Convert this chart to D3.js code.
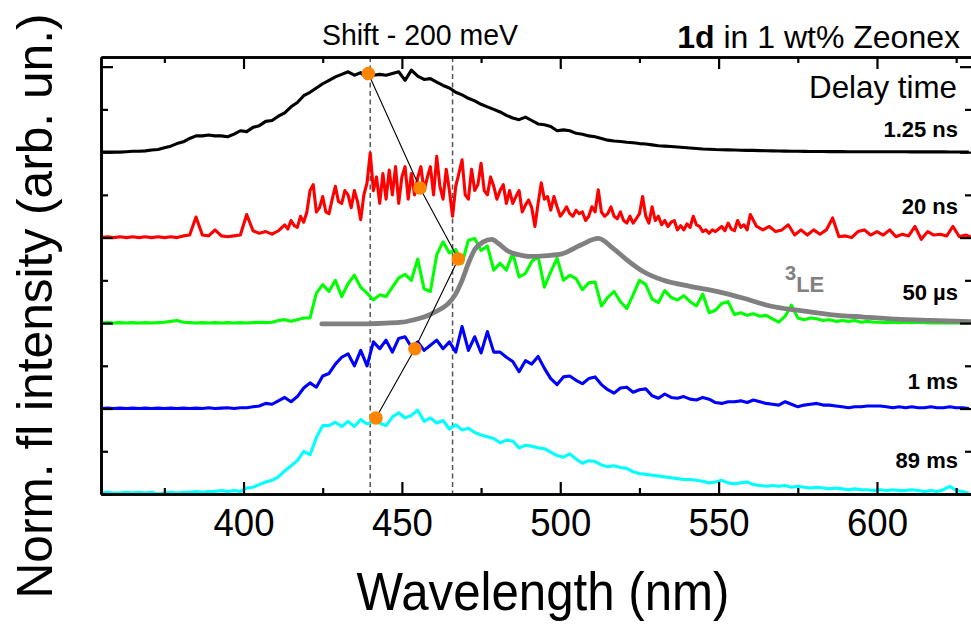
<!DOCTYPE html>
<html><head><meta charset="utf-8">
<script src="https://cdn.jsdelivr.net/npm/d3@7"></script>
<style>body{margin:0;background:#fff} svg{display:block;font-family:"Liberation Sans",Arial,sans-serif}</style>
</head><body><svg id="c" width="971" height="624"></svg>
<script>
// ---------------- DATA ----------------
const wavelengths = [
355,357,359,361,363,365,367,369,371,373,
375,377,379,381,383,385,387,389,391,393,
395,397,399,401,403,405,407,409,411,413,
415,417,419,421,423,425,427,429,431,433,
435,437,439,441,443,445,447,449,451,453,
455,457,459,461,463,465,467,469,471,473,
475,477,479,481,483,485,487,489,491,493,
495,497,499,501,503,505,507,509,511,513,
515,517,519,521,523,525,527,529,531,533,
535,537,539,541,543,545,547,549,551,553,
555,557,559,561,563,565,567,569,571,573,
575,577,579,581,583,585,587,589,591,593,
595,597,599,601,603,605,607,609,611,613,
615,617,619,621,623,625,627,629];

const delay_1_25ns = [
0,0,0,0,0.005,0.01,0.01,0.015,0.025,0.03,
0.05,0.07,0.10,0.12,0.16,0.19,0.19,0.20,0.19,0.19,
0.18,0.21,0.25,0.24,0.29,0.31,0.36,0.37,0.42,0.46,
0.53,0.58,0.66,0.70,0.75,0.80,0.84,0.88,0.91,0.94,
0.90,0.93,0.86,0.90,0.91,0.90,0.92,0.94,0.84,0.96,
0.89,0.85,0.86,0.82,0.78,0.75,0.70,0.67,0.63,0.60,
0.56,0.53,0.50,0.47,0.43,0.40,0.38,0.41,0.37,0.33,
0.32,0.30,0.25,0.26,0.25,0.22,0.21,0.19,0.18,0.16,
0.14,0.13,0.125,0.115,0.11,0.10,0.095,0.085,0.075,0.07,
0.065,0.06,0.055,0.048,0.042,0.036,0.034,0.03,0.028,0.026,
0.024,0.022,0.021,0.02,0.018,0.016,0.015,0.013,0.012,0.011,
0.01,0.009,0.008,0.008,0.007,0.006,0.006,0.006,0.005,0.005,
0.005,0.005,0.004,0.005,0.004,0.004,0.005,0.004,0.003,0.004,
0.003,0.003,0.004,0.003,0.002,0.002,0.001,0];

// 20 ns spectrum is sampled more finely (its own wavelength grid)
const redWavelengths = [
355,357,359,361,363,365,367,369,371,373,
375,377,379,381,383,385,387,389,391,393,
395,397,399,401,403,405,407,409,411,
413,414,415,416,417,418,419,420,421,422,
423,424,425,426,427,428,429,430,431,432,
433,434,435,436,437,438,439,440,441,442,
443,444,445,446,447,448,449,450,451,452,
453,454,455,456,457,458,459,460,461,462,
463,464,465,466,467,468,469,470,471,472,
473,474,475,476,477,478,479,480,481,482,
483,484,485,486,487,488,489,490,491,492,
493,494,495,496,497,498,499,500,501,502,
503,504,505,506,507,508,509,510,511,512,
513,514,515,516,517,518,519,520,521,522,
523,524,525,526,527,528,529,530,531,532,
533,534,535,536,537,538,539,540,541,542,
543,544,545,546,547,548,549,550,551,552,
553,554,555,556,557,558,559,560,
562,564,566,568,570,572,574,576,578,580,
582,584,586,588,590,592,594,596,598,600,
602,604,606,608,610,612,614,616,618,620,
622,624,626,628,630];
const delay_20ns = [
0,0.01,0,0.01,0,0.01,0,0.01,0,0.01,
0,0.01,0,0.02,0.03,0.24,0.03,0.02,0.09,0.02,
0.01,0.02,0.03,0.27,0.08,0.05,0.07,0.04,0.08,
0.15,0.10,0.20,0.14,0.12,0.25,0.18,0.30,0.55,0.62,
0.30,0.35,0.48,0.30,0.28,0.45,0.60,0.42,0.40,0.55,
0.50,0.35,0.55,0.42,0.21,0.50,0.64,0.99,0.55,0.71,
0.40,0.75,0.45,0.79,0.50,0.83,0.40,0.71,0.83,0.45,
0.75,0.50,0.70,0.83,0.55,0.70,0.83,0.50,0.95,0.60,
0.45,0.80,0.55,0.25,0.60,0.75,0.91,0.50,0.45,0.80,
0.55,0.62,0.87,0.55,0.50,0.71,0.60,0.45,0.55,0.62,
0.40,0.55,0.40,0.48,0.55,0.30,0.38,0.44,0.35,0.13,
0.40,0.64,0.45,0.48,0.32,0.48,0.36,0.25,0.30,0.36,
0.28,0.25,0.32,0.28,0.30,0.20,0.25,0.36,0.30,0.56,
0.30,0.25,0.28,0.36,0.25,0.22,0.30,0.20,0.17,0.25,
0.17,0.22,0.28,0.48,0.25,0.17,0.36,0.20,0.25,0.15,
0.20,0.13,0.18,0.20,0.09,0.14,0.09,0.16,0.12,0.25,
0.15,0.13,0.07,0.09,0.05,0.09,0.07,0.10,0.13,0.08,
0.17,0.10,0.08,0.20,0.12,0.15,0.09,0.27,
0.13,0.09,0.13,0.07,0.09,0.15,0.03,0.09,0.03,0.09,
0.04,0.09,0.23,0.01,0.02,0.00,0.07,0.09,0.03,0.07,
0.03,0.09,0.01,0.04,0.02,0.13,-0.02,0.07,0.03,0.04,
0.02,0.13,0.01,0.03,0.0];

const delay_50us = [
0,0.005,0,0.005,0,0.005,0,0.005,0,0.005,
0.01,0.02,0.03,0.01,0.005,0,0.005,0,0.005,0,
0.005,0,0.005,0,0.005,0.01,0.005,0.01,0.03,0.04,
0.02,0.04,0.06,0.06,0.35,0.45,0.37,0.50,0.31,0.46,
0.56,0.42,0.35,0.27,0.33,0.31,0.42,0.53,0.57,0.50,
0.75,0.40,0.37,0.80,0.95,0.82,0.86,0.70,0.97,0.99,
0.85,0.90,0.62,0.70,0.62,0.82,0.54,0.58,0.72,0.78,
0.42,0.60,0.76,0.50,0.56,0.52,0.39,0.47,0.48,0.20,
0.30,0.37,0.25,0.17,0.33,0.50,0.45,0.28,0.24,0.38,
0.30,0.27,0.32,0.25,0.20,0.34,0.12,0.15,0.23,0.25,
0.10,0.12,0.09,0.11,0.08,0.09,0.05,0.01,0.08,0.21,
0.06,0.04,0.06,0.05,0.03,0.04,0.02,0.03,0.02,0.03,
0.01,0.02,0.01,0.01,0.005,0.01,0.005,0.01,0.005,0.01,
0.005,0,0.005,0,0.005,0,0.005,0];

const delay_1ms = [
0,0.005,0,0.005,0,0.005,0,0.005,0,0.005,
0,0.005,0,0.005,0,0.005,0,0.01,0,0.005,
0.01,0,0.01,0.01,0.02,0.03,0.06,0.05,0.09,0.13,
0.08,0.14,0.24,0.30,0.25,0.38,0.41,0.52,0.60,0.64,
0.50,0.68,0.50,0.78,0.70,0.80,0.66,0.82,0.84,0.72,
0.78,0.68,0.74,0.80,0.70,0.78,0.66,0.96,0.68,0.84,
0.65,0.90,0.66,0.66,0.60,0.55,0.43,0.56,0.52,0.61,
0.47,0.35,0.28,0.37,0.38,0.33,0.29,0.35,0.37,0.28,
0.22,0.18,0.24,0.25,0.19,0.22,0.23,0.15,0.12,0.17,
0.13,0.12,0.14,0.11,0.10,0.13,0.11,0.07,0.06,0.08,
0.08,0.09,0.07,0.10,0.08,0.06,0.05,0.04,0.08,0.05,
0.02,0.04,0.05,0.06,0.04,0.04,0.03,0.02,0.01,0.02,
0.02,0.03,0.03,0.03,0.02,0.01,0.02,0.01,0.02,0.01,
0.01,0.02,0.01,0.01,0.02,0.01,0.01,0];

const delay_89ms = [
0.01,0.02,0.01,0.01,0.02,0.01,0.02,0.01,0.02,0.00,
0.01,0.02,0.01,0.02,0.02,0.03,0.02,0.03,0.03,0.04,
0.03,0.04,0.03,0.07,0.08,0.11,0.14,0.16,0.20,0.27,
0.33,0.39,0.50,0.46,0.66,0.80,0.80,0.84,0.79,0.85,
0.79,0.87,0.82,0.85,0.83,0.80,0.90,0.95,0.89,0.92,
0.98,0.85,0.89,0.83,0.86,0.76,0.81,0.75,0.77,0.72,
0.69,0.67,0.65,0.60,0.63,0.62,0.54,0.57,0.56,0.54,
0.53,0.49,0.45,0.43,0.47,0.41,0.36,0.39,0.38,0.34,
0.32,0.33,0.31,0.30,0.26,0.24,0.23,0.22,0.21,0.20,
0.19,0.18,0.17,0.17,0.16,0.15,0.13,0.14,0.16,0.13,
0.12,0.13,0.14,0.11,0.10,0.09,0.10,0.09,0.10,0.08,
0.09,0.08,0.07,0.08,0.07,0.06,0.07,0.06,0.05,0.06,
0.05,0.05,0.04,0.05,0.04,0.05,0.04,0.04,0.05,0.04,
0.03,0.04,0.03,0.05,0.09,0.04,0.03,0.01];

const seriesLabels = ["1.25 ns","20 ns","50 \u00b5s","1 ms","89 ms"];
const seriesOffsets = [4,3,2,1,0];
const seriesColors = ["#000000","#ff0000","#00ff00","#0000ff","#00ffff"];

// 3LE phosphorescence (plotted on the 50 us offset)
const le3Wavelengths = [424.7,435,445,450,454,457,460.5,462.5,464.7,466.8,469,471,473,475.7,478.4,480.5,483.6,486.8,490,495.8,500.5,506.3,512,516.8,521,526.3,532.6,541,549.4,557.9,566.3,574.7,585.2,595.8,606,616.8,630];
const le3Values = [-0.01,-0.01,0.0,0.01,0.04,0.07,0.13,0.17,0.23,0.33,0.50,0.70,0.86,0.95,0.98,0.93,0.84,0.80,0.78,0.79,0.81,0.91,0.99,0.87,0.74,0.60,0.50,0.43,0.37,0.29,0.20,0.15,0.10,0.07,0.045,0.03,0.015];
const le3Offset = 2;

// Peak positions (orange dots)
const peakWavelengths = [439.4, 455.7, 467.8, 454.1, 441.8];
const peakLevels = [4.92, 3.58, 2.75, 1.70, 0.89];

const shiftLines = [440, 466];
const xMajorTicks = [400,450,500,550,600];
const xMinorTicks = [375,425,475,525,575,625];
const yMajorTicks = [0,1,2,3,4,5];
const yMinorTicks = [0.5,1.5,2.5,3.5,4.5];

// ---------------- LAYOUT ----------------
const svg = d3.select("#c");
const L = 101, R = 972, T = 57, B = 494;
const x = d3.scaleLinear().domain([355, 630]).range([L, R]);
const y = d3.scaleLinear().domain([0, 5.113]).range([B, T]);
const labelDy = [-15, -24, -23, -20, -26];

// dashed shift lines
svg.append("g").selectAll("line").data(shiftLines).join("line")
  .attr("x1", d => x(d)).attr("x2", d => x(d)).attr("y1", T).attr("y2", B)
  .attr("stroke", "#555").attr("stroke-width", 1.5).attr("stroke-dasharray", "5,3.5");

// spectra
const allSeries = [delay_1_25ns, delay_20ns, delay_50us, delay_1ms, delay_89ms];
const allGrids = [wavelengths, redWavelengths, wavelengths, wavelengths, wavelengths];
const line = d3.line().x(d => x(d[0])).y(d => y(d[1]));
svg.append("clipPath").attr("id","clip").append("rect")
  .attr("x", L).attr("y", T - 5).attr("width", R - L).attr("height", B - T + 5);
const plot = svg.append("g").attr("clip-path","url(#clip)");

allSeries.forEach((vals, i) => {
  const grid = allGrids[i];
  const pts = grid.map((w, k) => [w, vals[k] + seriesOffsets[i]]);
  plot.append("path").attr("d", line(pts)).attr("fill","none")
    .attr("stroke", seriesColors[i]).attr("stroke-width", 3.1).attr("stroke-linejoin","round");
  if (i === 2) {
    const lp = le3Wavelengths.map((w, k) => [w, le3Values[k] + le3Offset]);
    plot.append("path").attr("d", d3.line().x(d => x(d[0])).y(d => y(d[1])).curve(d3.curveMonotoneX)(lp))
      .attr("fill","none").attr("stroke","#808080").attr("stroke-width",4.8).attr("stroke-linecap","round");
  }
});

// connecting line and dots
const dots = peakWavelengths.map((w, i) => [w, peakLevels[i]]);
svg.append("path").attr("d", line(dots)).attr("fill","none").attr("stroke","#000").attr("stroke-width",1.1);
svg.append("g").selectAll("circle").data(dots).join("circle")
  .attr("cx", d => x(d[0])).attr("cy", d => y(d[1])).attr("r", 6.8).attr("fill", "#ff8400");

// axes
function styleAxis(g){ g.select(".domain").attr("stroke","#000").attr("stroke-width",2.6);
  g.selectAll(".tick line").attr("stroke","#000").attr("stroke-width",2.2); }
const fmt = d3.format("d");
svg.append("g").attr("transform",`translate(0,${B})`)
  .call(d3.axisBottom(x).tickValues(xMajorTicks).tickSize(-12).tickSizeOuter(0).tickPadding(15).tickFormat(fmt))
  .call(styleAxis)
  .call(g => g.selectAll(".tick text").attr("font-size", 38).attr("fill","#000")
    .attr("font-family","'Liberation Sans',Arial,sans-serif").attr("textLength", 61).attr("lengthAdjust","spacingAndGlyphs"));
svg.append("g").attr("transform",`translate(0,${B})`)
  .call(d3.axisBottom(x).tickValues(xMinorTicks).tickSize(-6).tickSizeOuter(0).tickFormat(""))
  .call(styleAxis);
svg.append("g").attr("transform",`translate(0,${T})`)
  .call(d3.axisTop(x).tickValues(xMajorTicks).tickSize(-12).tickSizeOuter(0).tickFormat(""))
  .call(styleAxis);
svg.append("g").attr("transform",`translate(0,${T})`)
  .call(d3.axisTop(x).tickValues(xMinorTicks).tickSize(-6).tickSizeOuter(0).tickFormat(""))
  .call(styleAxis);
svg.append("g").attr("transform",`translate(${L},0)`)
  .call(d3.axisLeft(y).tickValues(yMajorTicks).tickSize(-12).tickSizeOuter(0).tickFormat(""))
  .call(styleAxis);
svg.append("g").attr("transform",`translate(${L},0)`)
  .call(d3.axisLeft(y).tickValues(yMinorTicks).tickSize(-7).tickSizeOuter(0).tickFormat(""))
  .call(styleAxis);
svg.append("g").attr("transform",`translate(${R},0)`)
  .call(d3.axisRight(y).tickValues(yMajorTicks).tickSize(-12).tickSizeOuter(0).tickFormat(""))
  .call(styleAxis);
svg.append("g").attr("transform",`translate(${R},0)`)
  .call(d3.axisRight(y).tickValues(yMinorTicks).tickSize(-7).tickSizeOuter(0).tickFormat(""))
  .call(styleAxis);

// series labels
svg.append("g").selectAll("text").data(seriesLabels).join("text")
  .attr("x", 958).attr("y", (d, i) => y(seriesOffsets[i]) + labelDy[i])
  .attr("text-anchor","end").attr("font-size", 22).attr("font-weight","bold").attr("fill","#000")
  .text(d => d);

// 3LE label
const le = svg.append("text").attr("x", 785).attr("y", 292).attr("fill","#808080").attr("font-weight","bold");
le.append("tspan").attr("font-size", 20).attr("dy", -12).text("3");
le.append("tspan").attr("font-size", 22).attr("dy", 12).text("LE");

// texts
svg.append("text").attr("x", 957).attr("y", 98).attr("text-anchor","end").attr("font-size", 32)
  .attr("textLength", 148).attr("lengthAdjust","spacingAndGlyphs").text("Delay time");
const title = svg.append("text").attr("x", 960).attr("y", 48).attr("text-anchor","end").attr("font-size", 32);
title.append("tspan").attr("font-weight","bold").text("1d");
title.append("tspan").text(" in 1 wt% Zeonex");
svg.append("text").attr("x", 420).attr("y", 45).attr("text-anchor","middle").attr("font-size", 30)
  .attr("textLength", 196).attr("lengthAdjust","spacingAndGlyphs").text("Shift - 200 meV");
svg.append("text").attr("x", 543).attr("y", 610).attr("text-anchor","middle").attr("font-size", 53)
  .attr("textLength", 373).attr("lengthAdjust","spacingAndGlyphs").text("Wavelength (nm)");
svg.append("text").attr("transform","translate(52,306) rotate(-90)").attr("text-anchor","middle").attr("font-size", 50)
  .attr("textLength", 585).attr("lengthAdjust","spacingAndGlyphs").text("Norm. fl intensity (arb. un.)");
</script></body></html>
